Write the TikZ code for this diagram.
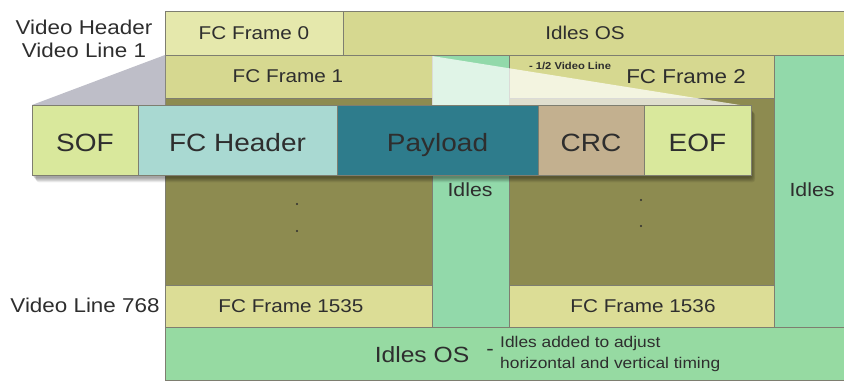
\documentclass[tikz,border=0pt]{standalone}
\usepackage{fontspec}
\setmainfont[FakeStretch=1.12]{Liberation Sans}
\definecolor{txt}{HTML}{2E2E2E}
\definecolor{paleyel}{HTML}{E5E8AC}
\definecolor{yel}{HTML}{D6D890}
\definecolor{yelb}{HTML}{DCDD96}
\definecolor{olive}{HTML}{8D8B50}
\definecolor{mint}{HTML}{92D9AA}
\definecolor{mintb}{HTML}{96DAA2}
\definecolor{sofc}{HTML}{D9E89C}
\definecolor{hdrc}{HTML}{A9D9D2}
\definecolor{payc}{HTML}{2E7C8C}
\definecolor{crcc}{HTML}{C3B08F}
\definecolor{trig}{HTML}{BEBEC8}
\definecolor{edge}{HTML}{7E7E70}
\tikzset{
  cell/.style={draw=edge, line width=0.8pt, inner sep=0pt, outer sep=0pt, anchor=north west, text=txt},
  lbl/.style={inner sep=0pt, text=txt, font=\fontsize{19}{21}\selectfont},
  frm/.style={font=\fontsize{18.5}{20}\selectfont},
  big/.style={font=\fontsize{25}{27}\selectfont, text height=23pt, text depth=0pt},
  dotm/.style={circle, fill=txt, inner sep=0pt, minimum size=2.2pt},
}
\begin{document}
\begin{tikzpicture}[x=1pt, y=-1pt]
\useasboundingbox (0,0) rectangle (844,382);
% background grid of frames
\node[cell, fill=paleyel, minimum width=178pt, minimum height=44pt, frm] (f0) at (165,11) {FC Frame 0};
\node[cell, fill=yel, minimum width=501pt, minimum height=44pt] (ostop) at (343,11) {};
\node[lbl, frm] (ostopt) at (585,33) {Idles OS};
\node[cell, fill=yel, minimum width=267pt, minimum height=43pt] (f1) at (165,55) {};
\node[lbl, frm] (f1t) at (288,76) {FC Frame 1};
\node[cell, fill=mint, minimum width=77pt, minimum height=272pt] (idm) at (432,55) {};
\node[cell, fill=yel, minimum width=265pt, minimum height=43pt] (f2) at (509,55) {};
\node[cell, fill=mint, minimum width=70pt, minimum height=272pt] (idr) at (774,55) {};
\node[cell, fill=olive, minimum width=267pt, minimum height=187pt] (ol) at (165,98) {};
\node[cell, fill=olive, minimum width=265pt, minimum height=187pt] (or) at (509,98) {};
\node[cell, fill=yelb, minimum width=267pt, minimum height=42pt] (f1535) at (165,285) {};
\node[lbl, frm] (f1535t) at (291,306) {FC Frame 1535};
\node[cell, fill=yelb, minimum width=265pt, minimum height=42pt] (f1536) at (509,285) {};
\node[lbl, frm] (f1536t) at (643,306) {FC Frame 1536};
\node[cell, fill=mintb, minimum width=679pt, minimum height=53pt] (osbot) at (165,327) {};
% idles labels
\node[lbl] (idmt) at (470,190) {Idles};
\node[lbl] (idrt) at (812,190) {Idles};
% dots
\node[dotm] (d1) at (297,204) {};
\node[dotm] (d2) at (297,231) {};
\node[dotm] (d3) at (641,200) {};
\node[dotm] (d4) at (641,226) {};
% zoom projection triangles
\fill[trig] (165,55) -- (32,105) -- (165,105) -- cycle;
\fill[white, opacity=0.72] (432,56) -- (740,105) -- (432,105) -- cycle;
% frame 2 labels
\node[lbl, font=\fontsize{20}{22}\selectfont] (f2t) at (686,77) {FC Frame 2};
\node[lbl, font=\fontsize{10}{12}\bfseries] (halft) at (570,66) {- 1/2 Video Line};
% side labels
\node[lbl, font=\fontsize{20}{22}\selectfont] (vh) at (84,27) {Video Header};
\node[lbl, font=\fontsize{20}{22}\selectfont] (vl1) at (84,50) {Video Line 1};
\node[lbl, font=\fontsize{20}{22}\selectfont] (vl768) at (85,305) {Video Line 768};
% bottom labels
\node[lbl, font=\fontsize{22}{24}\selectfont] (osbt) at (422,355) {Idles OS};
\node[lbl, font=\fontsize{20}{22}\selectfont] (dash) at (490,352) {-};
\node[lbl, anchor=north west, align=left, font=\fontsize{15.5}{21}\selectfont] (note) at (500,336) {Idles added to adjust\\horizontal and vertical timing};
% shadow of strip
\foreach \i in {1,...,6}{
  \fill[black, opacity=0.07, rounded corners=3pt] ({32+\i*0.7},{105+2+\i*0.9}) rectangle ({751+\i*0.7},{175+2+\i*0.9});
}
% expanded frame strip
\node[cell, fill=sofc, minimum width=106pt, minimum height=70pt, big] (sof) at (32,105) {SOF};
\node[cell, fill=hdrc, minimum width=199pt, minimum height=70pt, big] (hdr) at (138,105) {FC Header};
\node[cell, fill=payc, minimum width=201pt, minimum height=70pt, big] (pay) at (337,105) {Payload};
\node[cell, fill=crcc, minimum width=106pt, minimum height=70pt, big] (crc) at (538,105) {CRC};
\node[cell, fill=sofc, minimum width=107pt, minimum height=70pt, big] (eof) at (644,105) {EOF};
\end{tikzpicture}
\end{document}
